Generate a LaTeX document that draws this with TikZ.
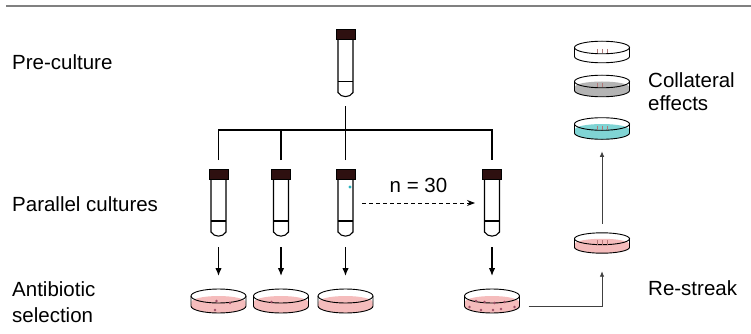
\documentclass[tikz,border=0pt]{standalone}
\usepackage{fontspec}
\setmainfont{Liberation Sans}
\usetikzlibrary{arrows.meta}

\definecolor{capred}{HTML}{2E1010}
\definecolor{agar}{HTML}{F5BCBC}
\definecolor{colony}{HTML}{9E5068}
\definecolor{streak}{HTML}{B07878}
\definecolor{greyagar}{HTML}{B4B4B4}
\definecolor{cyanagar}{HTML}{80D4D4}
\definecolor{mutant}{HTML}{2AB4C0}

\tikzset{
  % culture tube, cap on top
  pics/tube/.style={code={
    \draw[line width=1.1pt,fill=white] (-7.5,10) -- (-7.5,63)
      .. controls (-4.5,68.5) and (4.5,68.5) .. (7.5,63) -- (7.5,10);
    \draw[line width=1.1pt] (-7.5,52) -- (7.5,52);
    \draw[line width=1pt,fill=capred] (-9.5,0) rectangle (9.5,10);
    \coordinate (-top) at (0,0);
    \coordinate (-mid) at (0,34);
    \coordinate (-bot) at (0,67);
  }},
  % petri dish, #1 = colour of the medium
  pics/plate/.style={code={
    \fill[#1] (-27,1) .. controls (-27,-2.3) and (-14.9,-5) .. (0,-5)
      .. controls (14.9,-5) and (27,-2.3) .. (27,1)
      -- (27.5,5) .. controls (27.5,8.9) and (15.2,12) .. (0,12)
      .. controls (-15.2,12) and (-27.5,8.9) .. (-27.5,5) -- cycle;
    \draw[line width=.9pt] (0,-5) ellipse [x radius=27.5, y radius=7];
    \draw[line width=.9pt] (-27.5,-5) -- (-27.5,5)
      .. controls (-27.5,8.9) and (-15.2,12) .. (0,12)
      .. controls (15.2,12) and (27.5,8.9) .. (27.5,5) -- (27.5,-5);
    \coordinate (-top) at (0,-12);
    \coordinate (-bot) at (0,12);
    \coordinate (-right) at (27.5,5);
  }},
  pics/streaks/.style={code={
    \foreach \dx in {#1}
      \draw[streak,line width=.9pt] (\dx,-3) -- (\dx,1.5);
  }}
}

\begin{document}
\begin{tikzpicture}[x=1pt,y=-1pt,
    	 font=\fontsize{20.5}{26}\selectfont,
    	 txt/.style={anchor=base west,inner sep=0pt,align=left},
    	 link/.style={line width=1.3pt},
    	 down/.style={line width=1.3pt,-{Latex[length=8pt,width=6.5pt]}},
    	 thinarrow/.style={line width=.8pt,draw=black!75,-{Latex[length=5.5pt,width=4.5pt]}}]

    	 \useasboundingbox (0,0) rectangle (751,334);
    	 \draw[black!50,line width=1.5pt] (6,6) -- (751,6);

    	 % row captions (base = last line)
    	 \node[txt] (lpre) at (12,70) {Pre-culture};
    	 \node[txt] (lpar) at (12,211) {Parallel cultures};
    	 \node[txt] (lsel) at (12,322) {Antibiotic\\selection};
    	 \node[txt,font=\fontsize{20.5}{23.5}\selectfont] (lcol) at (648,110.5) {Collateral\\effects};
    	 \node[txt] (lrs) at (648,295) {Re-streak};

    	 % tubes
    	 \pic (pre) at (345.5,29.5) {tube};
    	 \pic (t1) at (218.5,169) {tube};
    	 \pic (t2) at (281,169) {tube};
    	 \pic (t3) at (345.5,169) {tube};
    	 \pic (t4) at (492,169) {tube};
    	 \fill[mutant] (350,187) circle [radius=1.6pt];

    	 % selection plates
    	 \pic (p1) at (218.5,301) {plate=agar};
    	 \pic (p2) at (281,301) {plate=agar};
    	 \pic (p3) at (345.5,301) {plate=agar};
    	 \pic (p4) at (492,301) {plate=agar};
    	 \foreach \dx/\dy in {-2/-1,11.5/1,-3.5/8}
    	   \fill[colony] (218.5+\dx,302+\dy) circle [radius=1.3pt];
    	 \fill[colony] (271.5,302) circle [radius=1.3pt];
    	 \foreach \dx/\dy in {-16/-1,-7.5/0,2.5/1,12.5/0,-22.5/5,-11/8,1/8,9/7,22.5/5}
    	   \fill[colony] (492+\dx,302+\dy) circle [radius=1.3pt];

    	 % re-streak and collateral plates
    	 \pic[yscale=.85] (rs) at (602,243) {plate=agar};
    	 \pic[yscale=.9] (c1) at (602,52) {plate=white};
    	 \pic[yscale=.9] (c2) at (602,86) {plate=greyagar};
    	 \pic[yscale=.9] (c3) at (602,128.5) {plate=cyanagar};
    	 \pic at (602,243) {streaks={-5,0,5}};
    	 \pic at (602,52) {streaks={-5,0,5}};
    	 \pic at (602,86) {streaks={-5,0}};
    	 \pic at (602,128.5) {streaks={-5,0,5}};

    	 % splitting the pre-culture
    	 \coordinate (split) at (345.5,130);
    	 \draw[link] ([yshift=-10pt]pre-bot) -- (split);
    	 \draw[link] ([yshift=9pt]t1-top) |- (split) -| ([yshift=9pt]t4-top);
    	 \foreach \t in {t2,t3}
    	   \draw[link] ([yshift=9pt]\t-top) -- (\t-top |- split);
    	 \draw[line width=1pt,dashed,dash pattern=on 4pt off 3pt,-{Stealth[length=8pt,width=6pt]}]
    	   ([xshift=16.5pt]t3-mid) -- ([xshift=-17pt]t4-mid)
    	   node[midway,above=10pt,inner sep=0pt] {n = 30};

    	 % plating
    	 \foreach \i in {1,...,4}
    	   \draw[down] ([yshift=-11pt]t\i-bot) -- ([yshift=13pt]p\i-top);
    	 \draw[thinarrow] ([xshift=9pt]p4-right) -| ([yshift=-18pt]rs-bot);
    	 \draw[thinarrow] ([yshift=9pt]rs-top) -- ([yshift=-12pt]c3-bot);

\end{tikzpicture}
\end{document}
